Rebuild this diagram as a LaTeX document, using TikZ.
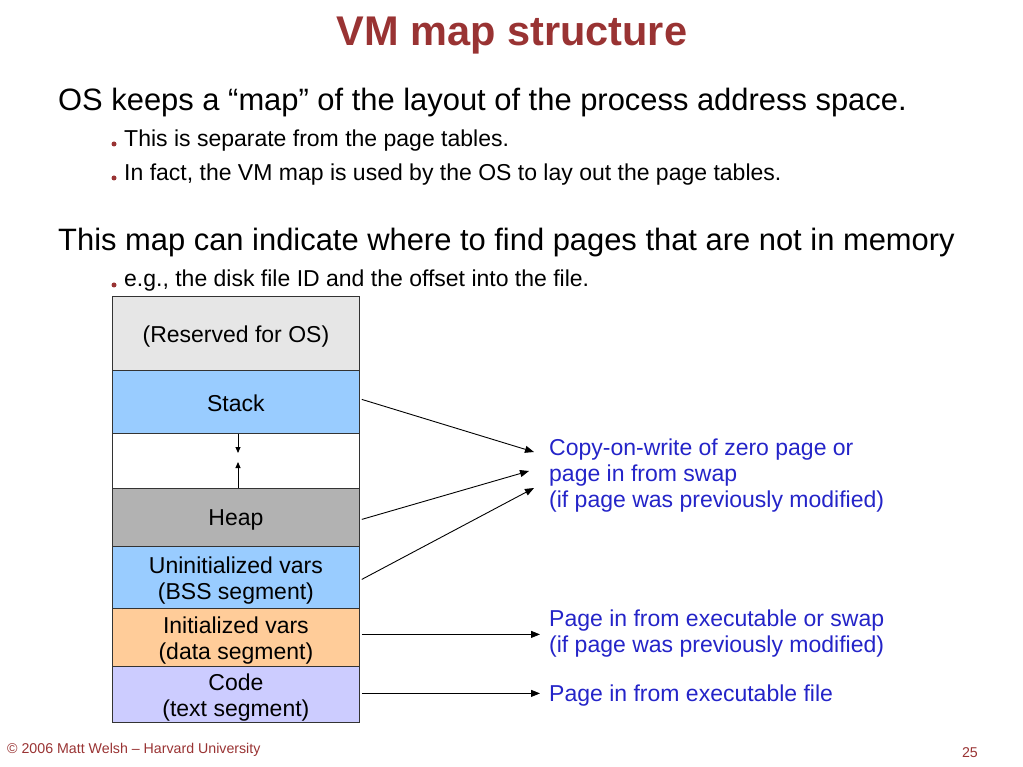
\documentclass[tikz,border=0pt]{standalone}
\usepackage{fontspec}
\setmainfont{Liberation Sans}
\usetikzlibrary{arrows.meta}
\definecolor{titlered}{HTML}{993333}
\definecolor{txtblue}{HTML}{2424C8}
\definecolor{resgray}{HTML}{E6E6E6}
\definecolor{stackblue}{HTML}{99CCFF}
\definecolor{heapgray}{HTML}{B2B2B2}
\definecolor{dataorange}{HTML}{FFCC99}
\definecolor{codeviolet}{HTML}{CCCCFF}
\begin{document}
\begin{tikzpicture}[x=1pt,y=-1pt,
  seg/.style={draw=black!80,line width=0.8pt,anchor=north west,minimum width=247pt,inner sep=0pt},
  segtext/.style={inner sep=0pt,align=center,yshift=-3pt,font=\fontsize{23}{26}\selectfont},
  head/.style={anchor=west,inner sep=0pt,font=\fontsize{30.9}{36}\selectfont},
  bul/.style={anchor=west,inner sep=0pt,font=\fontsize{23}{26}\selectfont},
  dot/.style={circle,fill=titlered,inner sep=0pt,minimum size=5pt},
  note/.style={anchor=west,inner sep=0pt,align=left,text=txtblue,font=\fontsize{23}{26}\selectfont},
  conn/.style={-{Triangle[length=9pt,width=7pt]},line width=0.9pt},
  small/.style={-{Triangle[length=6pt,width=5pt]},line width=0.9pt}]
\useasboundingbox (0,0) rectangle (1023,767);
% title
\node[inner sep=0pt,text=titlered,font=\bfseries\fontsize{41.5}{46}\selectfont] (title) at (512,36) {VM map structure};
% bullets
\node[head] (h1) at (58,103) {OS keeps a “map” of the layout of the process address space.};
\node[dot] (d1) at (114,144) {};
\node[bul] (b1) at (124,141) {This is separate from the page tables.};
\node[dot] (d2) at (114,178) {};
\node[bul] (b2) at (124,175) {In fact, the VM map is used by the OS to lay out the page tables.};
\node[head] (h2) at (58,243) {This map can indicate where to find pages that are not in memory};
\node[dot] (d3) at (114,285) {};
\node[bul] (b3) at (124,281) {e.g., the disk file ID and the offset into the file.};
% segments
\node[seg,fill=resgray,minimum height=74pt,label={[segtext]center:(Reserved for OS)}] (res) at (112,296) {};
\node[seg,fill=stackblue,minimum height=63pt,label={[segtext,yshift=2pt]center:Stack}] (stack) at (112,370) {};
\node[seg,fill=white,minimum height=55pt] (gap) at (112,433) {};
\node[seg,fill=heapgray,minimum height=58pt,label={[segtext]center:Heap}] (heap) at (112,488) {};
\node[seg,fill=stackblue,minimum height=62pt,label={[segtext]center:Uninitialized vars\\(BSS segment)}] (bss) at (112,546) {};
\node[seg,fill=dataorange,minimum height=58pt,label={[segtext]center:Initialized vars\\(data segment)}] (data) at (112,608) {};
\node[seg,fill=codeviolet,minimum height=56pt,label={[segtext]center:Code\\(text segment)}] (code) at (112,666) {};
% inner arrows
\coordinate (gdn) at (238,453);
\coordinate (gup) at (238,462);
\draw[small] (stack.south -| gdn) -- (gdn);
\draw[small] (heap.north -| gup) -- (gup);
% notes
\node[note] (n1) at (549,476) {Copy-on-write of zero page or\\page in from swap\\(if page was previously modified)};
\node[note] (n2) at (549,634) {Page in from executable or swap\\(if page was previously modified)};
\node[note] (n3) at (549,696) {Page in from executable file};
% connectors
\coordinate (t1) at (534,452);
\coordinate (t2) at (529,471);
\coordinate (t3) at (534,488);
\draw[conn] ([xshift=2pt,yshift=2.5pt]stack.east) -- (t1);
\draw[conn] ([xshift=2pt,yshift=-2pt]heap.east) -- (t2);
\draw[conn] ([xshift=2pt,yshift=-2pt]bss.east) -- (t3);
\draw[conn] ([xshift=2pt,yshift=3pt]data.east) -- ([xshift=-9pt,yshift=3pt]data.east -| n2.west);
\draw[conn] ([xshift=2pt,yshift=1pt]code.east) -- ([xshift=-9pt,yshift=1pt]code.east -| n3.west);
% footer
\node[anchor=west,inner sep=0pt,text=titlered,font=\fontsize{14.2}{16}\selectfont] (foot) at (7,750) {© 2006 Matt Welsh – Harvard University};
\node[anchor=east,inner sep=0pt,text=titlered,font=\fontsize{14.2}{16}\selectfont] (page) at (978,753) {25};
\end{tikzpicture}
\end{document}
